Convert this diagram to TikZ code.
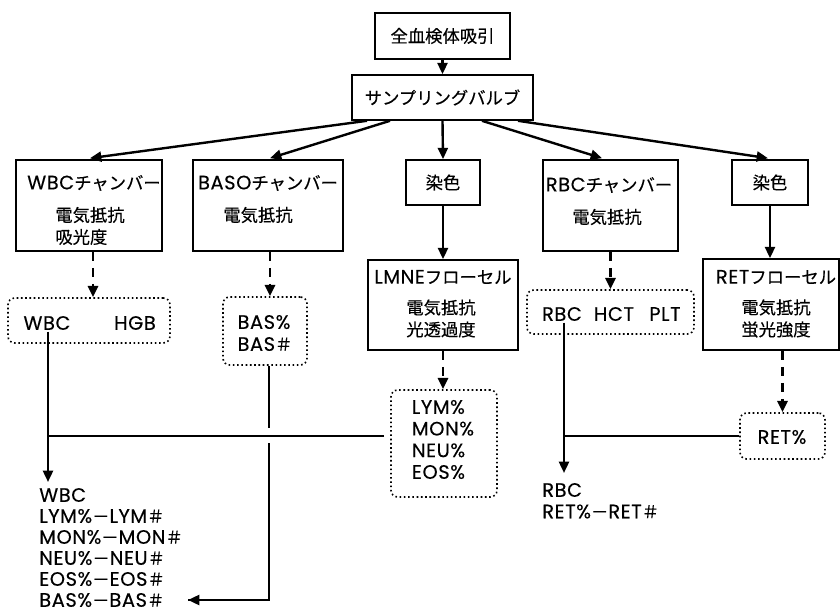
\documentclass[tikz,border=0pt]{standalone}
\usepackage{fontspec}
\setmainfont{Noto Sans CJK JP}[FakeBold=0.3]
\newfontfamily\latfont{Poppins}[Scale=1.12,LetterSpace=3,FakeBold=0.3]
\newcommand\lt[1]{{\latfont #1}}
\usetikzlibrary{arrows.meta,calc}
\begin{document}
\begin{tikzpicture}[x=0.75pt,y=-0.75pt,
  box/.style={draw,line width=1.2pt,inner sep=0pt},
  dbox/.style={draw,dotted,line width=1.2pt,rounded corners=5pt,inner sep=0pt},
  txt/.style={inner sep=1pt,font=\fontsize{13}{16.5}\selectfont},
  ltxt/.style={txt,align=left},
  otxt/.style={txt,anchor=west,inner sep=0pt},
  arr/.style={line width=1.8pt,-{Triangle[length=8.5pt,width=7.5pt]}},
  darr/.style={arr,dash pattern=on 7pt off 5pt,line width=2.1pt},
  ln/.style={line width=1.8pt}]
\useasboundingbox (0,0) rectangle (840,613);
% boxes
\node[box,minimum width=101.25pt,minimum height=34.5pt] (top) at (442.5,36) {};
\node[box,minimum width=135.75pt,minimum height=33.75pt] (samp) at (442.5,97.5) {};
\node[box,minimum width=109.5pt,minimum height=68.25pt] (wbcch) at (89,205.5) {};
\node[box,minimum width=112.5pt,minimum height=68.25pt] (baso) at (268,205.5) {};
\node[box,minimum width=55.5pt,minimum height=33.75pt] (stainL) at (443,182.5) {};
\node[box,minimum width=112.5pt,minimum height=67.5pt] (lmne) at (443,305) {};
\node[box,minimum width=101.25pt,minimum height=68.25pt] (rbcch) at (610.5,205.5) {};
\node[box,minimum width=57pt,minimum height=33.75pt] (stainR) at (770,182.5) {};
\node[box,minimum width=102pt,minimum height=68.25pt] (ret) at (771,304.5) {};
% dotted result boxes
\node[dbox,minimum width=121.5pt,minimum height=33.75pt] (wbchgb) at (89,320.5) {};
\node[dbox,minimum width=63pt,minimum height=51pt] (bas) at (265,331) {};
\node[dbox,minimum width=79.5pt,minimum height=80.25pt] (lym) at (444,443.5) {};
\node[dbox,minimum width=125.25pt,minimum height=33pt] (rbchct) at (610.5,312) {};
\node[dbox,minimum width=63.75pt,minimum height=34.5pt] (retp) at (782.5,436) {};
% texts in boxes
\node[txt] (topT) at (442.5,36) {全血検体吸引};
\node[txt] (sampT) at (442.5,97.5) {サンプリングバルブ};
\node[txt] (wbcchT) at (94,183) {\lt{WBC}チャンバー};
\node[ltxt] (wbcchM) at (90,226) {電気抵抗\\吸光度};
\node[txt] (basoT) at (268,183) {\lt{BASO}チャンバー};
\node[txt] (basoM) at (258,215) {電気抵抗};
\node[txt] (stainLT) at (443,182.5) {染色};
\node[txt] (lmneT) at (443,277) {\lt{LMNE}フローセル};
\node[ltxt] (lmneM) at (441,318.5) {電気抵抗\\光透過度};
\node[txt] (rbcchT) at (609,185) {\lt{RBC}チャンバー};
\node[txt] (rbcchM) at (607,217) {電気抵抗};
\node[txt] (stainRT) at (770,182.5) {染色};
\node[txt] (retT) at (776,277) {\lt{RET}フローセル};
\node[ltxt] (retM) at (776,318.5) {電気抵抗\\蛍光強度};
% texts in dotted boxes
\node[txt] (wbcT) at (47,323) {\lt{WBC}};
\node[txt] (hgbT) at (135,323) {\lt{HGB}};
\node[ltxt] (basT) at (265,333) {\lt{BAS\%}\\\lt{BAS}＃};
\node[ltxt,font=\fontsize{13}{16.25}\selectfont] (lymT) at (443,439.5) {\lt{LYM\%}\\\lt{MON\%}\\\lt{NEU\%}\\\lt{EOS\%}};
\node[txt] (rbcT) at (562,314) {\lt{RBC}};
\node[txt] (hctT) at (614,314) {\lt{HCT}};
\node[txt] (pltT) at (665,314) {\lt{PLT}};
\node[txt] (retpT) at (782,437) {\lt{RET\%}};
% output texts
\node[otxt] (o1) at (39,495) {\lt{WBC}};
\node[otxt] (o2) at (39,516) {\lt{LYM\%}－\lt{LYM}＃};
\node[otxt] (o3) at (39,537) {\lt{MON\%}－\lt{MON}＃};
\node[otxt] (o4) at (39,558) {\lt{NEU\%}－\lt{NEU}＃};
\node[otxt] (o5) at (39,579) {\lt{EOS\%}－\lt{EOS}＃};
\node[otxt] (o6) at (39,600) {\lt{BAS\%}－\lt{BAS}＃};
\node[otxt] (o7) at (542,490) {\lt{RBC}};
\node[otxt] (o8) at (542,511.5) {\lt{RET\%}－\lt{RET}＃};
% coordinates
\coordinate (wbcEnd) at (48,482);
\coordinate (j1) at (48,436);
\coordinate (j1e) at (384,436);
\coordinate (basEnd) at (188,600);
\coordinate (basCorner) at (269,600);
\coordinate (rbcEnd) at (564,473);
\coordinate (j2) at (564,436);
% top arrows
\draw[arr] (top) -- (samp);
\draw[arr] ($(samp.south)+(-75.5,0)$) -- ($(wbcch.north)+(1,-1)$);
\draw[arr] ($(samp.south)+(-52.5,0)$) -- ($(baso.north)+(2,-1)$);
\draw[arr] (samp.south) -- (stainL.north);
\draw[arr] ($(samp.south)+(39.5,0)$) -- ($(rbcch.north)+(-8.5,-1)$);
\draw[arr] ($(samp.south)+(75.5,0)$) -- ($(stainR.north)+(-2,-1)$);
\draw[arr] (stainL) -- (lmne);
\draw[arr] (stainR) -- (stainR|-ret.north);
% dashed arrows
\draw[darr] ([xshift=3pt]wbcch.south) -- ([xshift=3pt]wbchgb.north);
\draw[darr] ([xshift=1.5pt]baso.south) -- ([xshift=1.5pt]baso.south|-bas.north);
\draw[darr] (lmne.south) -- (lmne.south|-lym.north);
\draw[darr] (rbcch.south) -- (rbcch.south|-rbchct.north);
\draw[darr] (retp.north|-ret.south) -- (retp.north);
% output lines
\draw[ln] (bas.south-|basCorner) -- (basCorner) -- (basEnd);
\draw[arr] (basCorner) -- (basEnd);
\draw[white,line width=5pt] (269,428) -- (269,443);
\draw[arr] (wbcT.south-|wbcEnd) -- (wbcEnd);
\draw[ln] (j1e) -- (j1);
\draw[arr] (rbcT.south-|rbcEnd) -- (rbcEnd);
\draw[ln] (retp.west) -- (j2);
\end{tikzpicture}
\end{document}
